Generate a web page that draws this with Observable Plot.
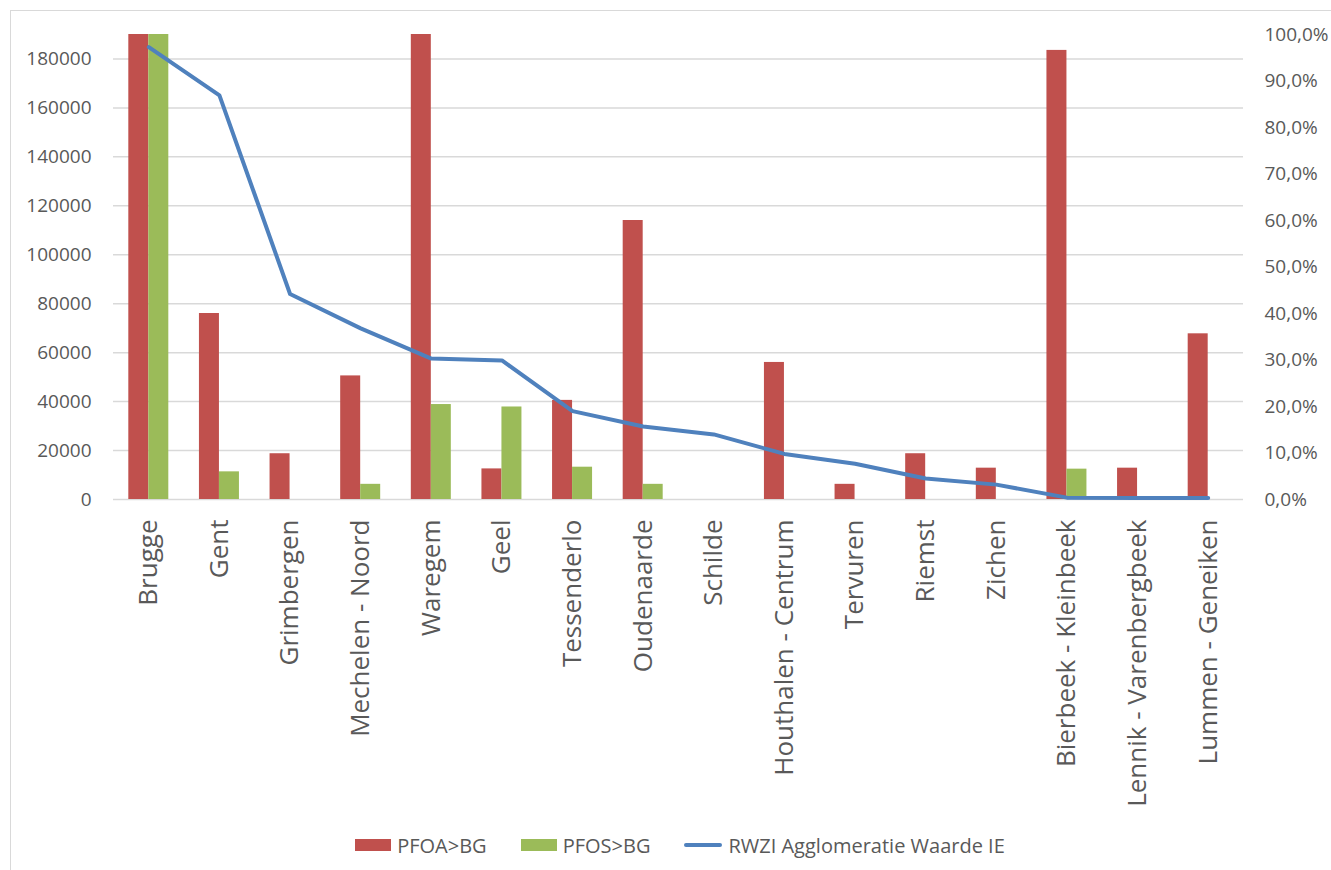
<!DOCTYPE html>
<html>
<head>
<meta charset="utf-8">
<script src="https://cdn.jsdelivr.net/npm/d3@7"></script>
<script src="https://cdn.jsdelivr.net/npm/@observablehq/plot@0.6"></script>
<style>
  html, body { margin: 0; padding: 0; background: #fff; }
  body { width: 1331px; height: 870px; position: relative; overflow: hidden; font-family: "Open Sans", sans-serif; color: #595959; }
  #frame { position: absolute; left: 10px; top: 10px; width: 1400px; height: 900px; border-top: 1.5px solid #d9d9d9; border-left: 1.5px solid #d9d9d9; pointer-events: none; }
  #chart { position: absolute; left: 0; top: 0; }
  #legend { position: absolute; left: 113px; top: 822px; width: 1134px; height: 46px; display: flex; justify-content: center; align-items: center; gap: 34px; font-size: 20px; color: #595959; }
  .item { display: flex; align-items: center; gap: 6px; }
  .sw { width: 36px; height: 12px; }
  .ln { width: 38px; height: 4px; border-radius: 2px; }
</style>
</head>
<body>
<div id="frame"></div>
<div id="chart"></div>
<div id="legend"></div>
<script>
// ---- data ----
const categories = ["Brugge", "Gent", "Grimbergen", "Mechelen - Noord", "Waregem", "Geel", "Tessenderlo", "Oudenaarde", "Schilde", "Houthalen - Centrum", "Tervuren", "Riemst", "Zichen", "Bierbeek - Kleinbeek", "Lennik - Varenbergbeek", "Lummen - Geneiken"];
const pfoa = [190000, 76000, 18700, 50500, 190000, 12500, 40500, 114000, 0, 56000, 6200, 18700, 12800, 183500, 12800, 67700];
const pfos = [190000, 11300, 0, 6200, 38800, 37800, 13200, 6200, 0, 0, 0, 0, 0, 12400, 0, 0];
const rwziIE = [0.973, 0.869, 0.442, 0.368, 0.303, 0.299, 0.190, 0.157, 0.140, 0.098, 0.077, 0.045, 0.032, 0.004, 0.003, 0.003];
const leftTicks = [0, 20000, 40000, 60000, 80000, 100000, 120000, 140000, 160000, 180000];
const rightTicks = [0, 0.1, 0.2, 0.3, 0.4, 0.5, 0.6, 0.7, 0.8, 0.9, 1.0];
const seriesNames = ["PFOA>BG", "PFOS>BG", "RWZI Agglomeratie Waarde IE"];
const colors = ["#C0504D", "#9BBB59", "#4F81BD"];
const YMAX = 190000; // left-axis value that lines up with 100% on the right axis

const rows = categories.map((c, i) => ({cat: c, pfoa: pfoa[i], pfos: pfos[i], ie: rwziIE[i]}));

const fmtPct = d => (d * 100).toFixed(1).replace(".", ",") + "%";

const chart = Plot.plot({
  width: 1331,
  height: 820,
  marginTop: 34,
  marginBottom: 321,
  marginLeft: 113,
  marginRight: 88,
  style: {fontFamily: "'Open Sans', sans-serif", color: "#595959", background: "transparent"},
  x: {domain: categories, paddingInner: 0.4336, paddingOuter: 0.2168, round: false, label: null},
  y: {domain: [0, YMAX], label: null},
  marks: [
    Plot.gridY(leftTicks, {stroke: "#d9d9d9", strokeOpacity: 1, strokeWidth: 1.5}),
    Plot.barY(rows, {x: "cat", y: "pfoa", fill: colors[0], insetRight: 20}),
    Plot.barY(rows, {x: "cat", y: "pfos", fill: colors[1], insetLeft: 20}),
    Plot.lineY(rows, {x: "cat", y: d => d.ie * YMAX, stroke: colors[2], strokeWidth: 4, strokeLinejoin: "round"}),
    Plot.axisY(leftTicks, {anchor: "left", tickSize: 0, tickPadding: 22, fontSize: 19, label: null, tickFormat: d => String(d)}),
    Plot.axisY(rightTicks.map(t => t * YMAX), {anchor: "right", tickSize: 0, tickPadding: 21, fontSize: 19, label: null, tickFormat: d => fmtPct(d / YMAX)}),
    Plot.axisX({tickRotate: -90, tickSize: 0, tickPadding: 20, fontSize: 26, label: null})
  ]
});
document.getElementById("chart").appendChild(chart);

// legend
const legend = document.getElementById("legend");
seriesNames.forEach((name, i) => {
  const item = document.createElement("div");
  item.className = "item";
  const sw = document.createElement("div");
  sw.className = i < 2 ? "sw" : "ln";
  sw.style.background = colors[i];
  const tx = document.createElement("span");
  tx.textContent = name;
  item.appendChild(sw);
  item.appendChild(tx);
  legend.appendChild(item);
});
</script>
</body>
</html>
